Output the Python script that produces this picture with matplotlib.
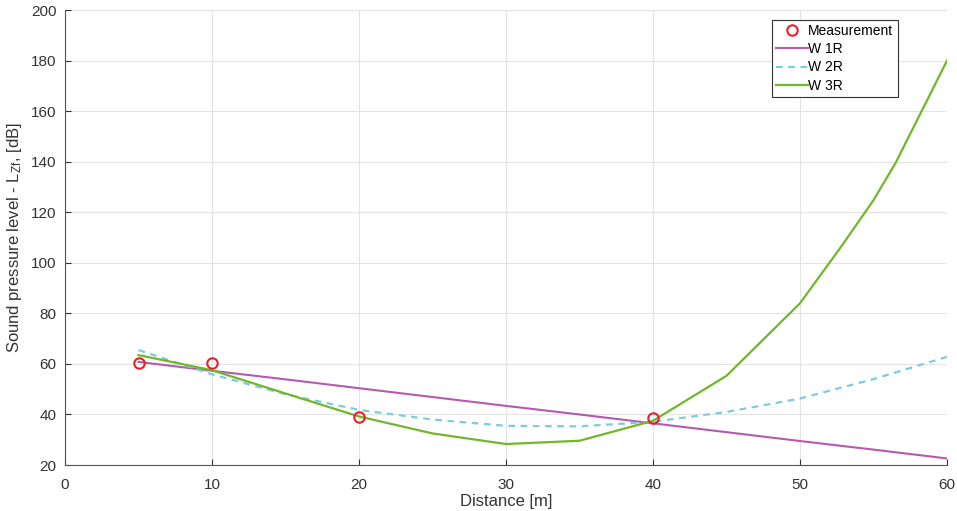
import matplotlib
matplotlib.use("Agg")
import matplotlib.pyplot as plt

plt.rcParams['font.family'] = ['Liberation Sans', 'DejaVu Sans']
plt.rcParams['mathtext.default'] = 'regular'

# measured points
meas_x = [5, 10, 20, 40]
meas_y = [60.5, 60.2, 39.0, 38.7]

# model curves
dist = [5, 10, 15, 20, 25, 30, 35, 40, 45, 50, 55, 60]
w1r = [60.8, 57.3, 53.9, 50.4, 46.9, 43.4, 40.0, 36.5, 33.0, 29.5, 26.1, 22.6]
w2r = [65.5, 55.9, 48.0, 41.8, 38.0, 35.5, 35.3, 37.1, 41.0, 46.3, 54.0, 62.8]

dist3 = [5, 10, 15, 20, 25, 30, 35, 40, 45, 50, 52.8, 55, 56.5, 60]
w3r = [63.5, 57.5, 48.3, 39.2, 32.5, 28.3, 29.6, 37.5, 55.3, 84.0, 106.4, 124.8, 139.5, 180.0]

fig = plt.figure(figsize=(9.57, 5.11), dpi=100)
ax = fig.add_axes([0.068, 0.09, 0.9215, 0.89])

ax.plot(meas_x, meas_y, 'o', mfc='none', mec='#E8202A', mew=1.5, ms=7.5,
        label='Measurement', zorder=5)
ax.plot(dist, w1r, '-', color='#B55AAE', lw=1.5, label='W 1R')
ax.plot(dist, w2r, '--', color='#7ACCE0', lw=1.6, dashes=(3, 2.5), label='W 2R')
ax.plot(dist3, w3r, '-', color='#72B62A', lw=1.6, label='W 3R')

ax.set_xlim(0, 60)
ax.set_ylim(20, 200)
ax.set_xticks(range(0, 61, 10))
ax.set_yticks(range(20, 201, 20))
ax.grid(True, color='#E3E3E3', lw=0.8)
ax.set_axisbelow(True)
for s in ['top', 'right']:
    ax.spines[s].set_visible(False)
for s in ['left', 'bottom']:
    ax.spines[s].set_color('#555555')
ax.tick_params(direction='in', length=4, colors='#333333', labelsize=11)
ax.tick_params(axis='x', pad=9)
ax.tick_params(axis='y', pad=6)

ax.set_xlabel('Distance [m]', fontsize=12, color='#333333', labelpad=2)
ax.set_ylabel('Sound pressure level - L$_{Zf}$, [dB]', fontsize=12,
              color='#333333', labelpad=5)

leg = ax.legend(loc='upper right', bbox_to_anchor=(0.938, 0.961),
                bbox_transform=fig.transFigure, fancybox=False,
                edgecolor='#333333', framealpha=1, fontsize=10,
                handlelength=2.3, handletextpad=0.0, borderpad=0.3,
                labelspacing=0.3, borderaxespad=0)
leg.get_frame().set_linewidth(0.8)

fig.savefig('out.png', dpi=100)
